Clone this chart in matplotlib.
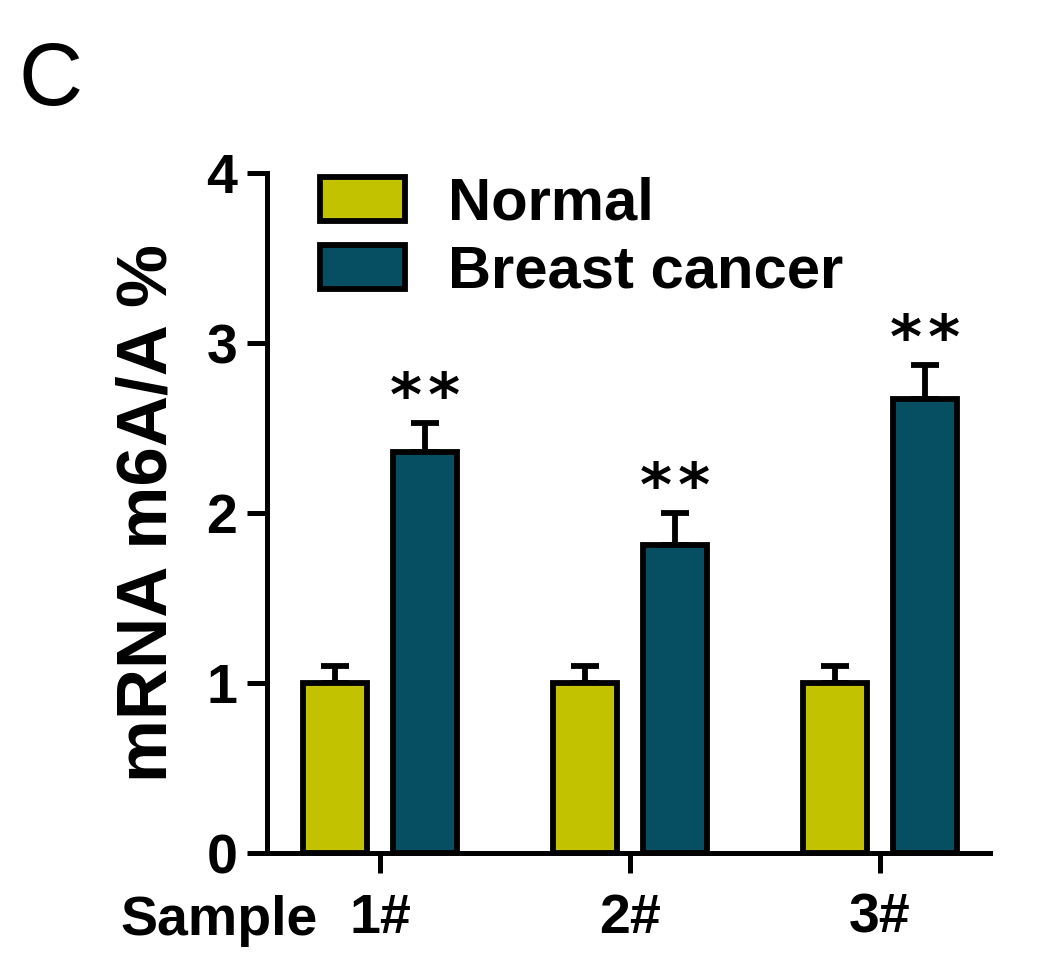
import matplotlib.pyplot as plt
import numpy as np

plt.rcParams['font.family'] = ['Liberation Sans', 'DejaVu Sans']

samples = ["1#", "2#", "3#"]
normal = [1.0, 1.0, 1.0]
normal_err = [0.1, 0.1, 0.1]
cancer = [2.36, 1.81, 2.67]
cancer_err = [0.17, 0.19, 0.20]
stars = ["**", "**", "**"]
yticks = [0, 1, 2, 3, 4]

yellow = "#c2c200"
teal = "#064f62"

fig = plt.figure(figsize=(10.5, 9.56), dpi=100)
ax = fig.add_axes([0.2543, 0.1077, 0.6886, 0.7113])

x = np.arange(len(samples))
w = 0.256
off = 0.179
lw = 4.2

ax.bar(x - off, normal, w, color=yellow, edgecolor="black", linewidth=lw,
       label="Normal", zorder=3)
ax.bar(x + off, cancer, w, color=teal, edgecolor="black", linewidth=lw,
       label="Breast cancer", zorder=3)
ax.errorbar(x - off, normal, yerr=[[0]*3, normal_err], fmt="none", ecolor="black",
            elinewidth=lw, capsize=10, capthick=lw, zorder=2)
ax.errorbar(x + off, cancer, yerr=[[0]*3, cancer_err], fmt="none", ecolor="black",
            elinewidth=lw, capsize=10, capthick=lw, zorder=2)

# significance marks, spaced a little apart like the original
for i in range(len(samples)):
    ax.text(x[i] + off, cancer[i] + cancer_err[i] + 0.14, "\u200a".join(stars[i]),
            ha="center", va="center", fontsize=44, fontweight="bold",
            family="DejaVu Sans")

ax.set_xlim(-0.452, 2.44)
ax.set_ylim(0, 4)
ax.set_yticks(yticks)
ax.set_xticks(x)
ax.set_xticklabels(samples)
ax.set_ylabel("mRNA m6A/A %", fontsize=51, fontweight="bold", labelpad=18)

for s in ["top", "right"]:
    ax.spines[s].set_visible(False)
for s in ["left", "bottom"]:
    ax.spines[s].set_linewidth(3.6)
ax.tick_params(width=3.6, length=14.5, labelsize=40)
ax.tick_params(axis="x", pad=14)
ax.tick_params(axis="y", pad=7)
for t in ax.get_xticklabels() + ax.get_yticklabels():
    t.set_fontweight("bold")

fig.text(0.115, 0.022, "Sample", fontsize=40, fontweight="bold", ha="left", va="baseline")
fig.text(0.018, 0.89, "C", fontsize=64, ha="left", va="baseline")

leg = ax.legend(loc="upper left", bbox_to_anchor=(0.04, 1.03), frameon=False,
                fontsize=43, handlelength=1.42, handleheight=0.77,
                handletextpad=0.72, labelspacing=0.22, borderaxespad=0)
for t in leg.get_texts():
    t.set_fontweight("bold")

fig.savefig("out.png", dpi=100)
